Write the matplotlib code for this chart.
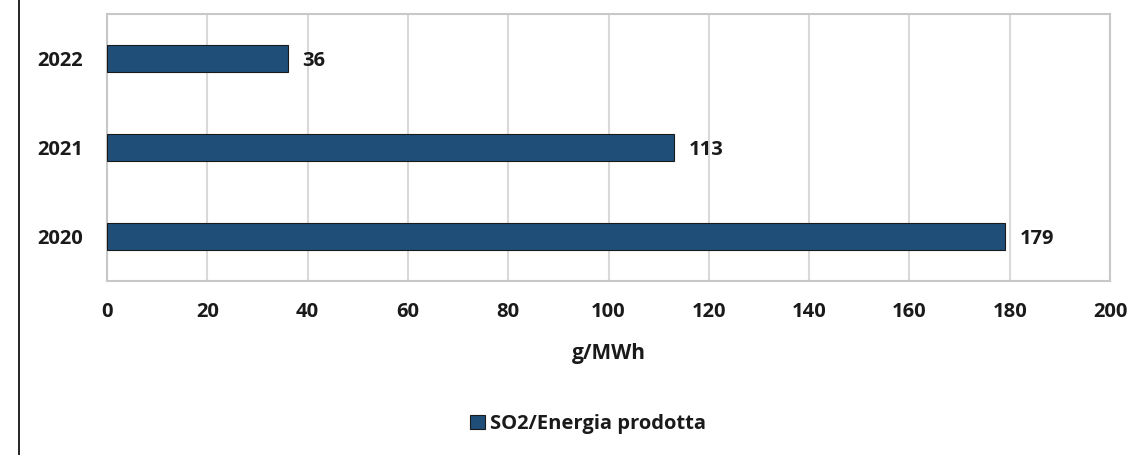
import numpy as np
import matplotlib.pyplot as plt
from matplotlib.lines import Line2D
from matplotlib.patches import Patch

# data
years = ['2020', '2021', '2022']
so2 = [179, 113, 36]

plt.rcParams['font.family'] = ['Open Sans', 'DejaVu Sans']
plt.rcParams['font.weight'] = 'bold'

bar_color = '#1f4e79'
grid_color = '#d9d9d9'
txt = '#1a1a1a'
fs = 14.5

fig = plt.figure(figsize=(11.34, 4.55), dpi=100)
ax = fig.add_axes([107/1134, 1 - 281/455, (1110 - 107)/1134, (281 - 14)/455])

y = np.arange(len(years))
ax.barh(y, so2, height=0.3, color=bar_color, edgecolor=txt, linewidth=0.8, zorder=3)

for yi, v in zip(y, so2):
    ax.text(v + 3, yi, str(v), va='center_baseline', ha='left', fontsize=fs, fontweight='bold', color=txt)

ax.set_xlim(0, 200)
ax.set_ylim(-0.5, 2.5)
ax.set_xticks(np.arange(0, 201, 20))
ax.set_xticklabels([str(v) for v in range(0, 201, 20)], fontweight='bold')
ax.set_yticks(y)
ax.set_yticklabels(years, fontweight='bold')
ax.tick_params(axis='both', length=0, labelsize=fs, colors=txt)
ax.tick_params(axis='x', pad=15)
ax.tick_params(axis='y', pad=17)

ax.grid(axis='x', color=grid_color, linewidth=1.5, zorder=0)
for s in ax.spines.values():
    s.set_color('#c8c8c8')
    s.set_linewidth(1.5)

ax.set_xlabel('g/MWh', fontsize=15, fontweight='bold', labelpad=15, color=txt)

# legend
handles = [Patch(facecolor=bar_color, edgecolor=txt, linewidth=0.8, label='SO2/Energia prodotta')]
fig.legend(handles=handles, loc='center', bbox_to_anchor=(588/1134, 1 - 424/455), frameon=False,
           prop={'size': fs, 'weight': 'bold'}, handlelength=0.75, handleheight=0.75, handletextpad=0.25,
           labelcolor=txt)

# black line on the left edge
fig.add_artist(Line2D([18.5/1134, 18.5/1134], [0, 1], transform=fig.transFigure, color='black', linewidth=1.2))

fig.savefig('out.png', dpi=100)
